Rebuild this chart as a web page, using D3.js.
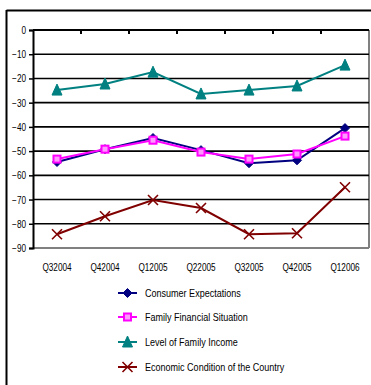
<!DOCTYPE html>
<html><head><meta charset="utf-8">
<script src="https://cdn.jsdelivr.net/npm/d3@7"></script>
<style>
html,body{margin:0;padding:0;background:#fff;}
svg{display:block;}
text{font-family:"Liberation Sans",Arial,sans-serif;fill:#000;}
</style></head><body>
<svg id="chart" width="371" height="385"></svg>
<script>
const categories = ["Q32004","Q42004","Q12005","Q22005","Q32005","Q42005","Q12006"];
const consumerExpectations = [-54.5, -49.2, -44.6, -49.6, -55.0, -53.8, -40.5];
const familyFinancial = [-53.3, -49.2, -45.5, -50.4, -53.3, -51.2, -43.8];
const familyIncome = [-24.8, -22.3, -17.4, -26.4, -24.8, -23.1, -14.5];
const economicCondition = [-84.3, -76.9, -70.2, -73.5, -84.3, -83.9, -64.9];
const yTicks = [0,-10,-20,-30,-40,-50,-60,-70,-80,-90];

const series = [
  {name:"Consumer Expectations", values:consumerExpectations, color:"#000080", marker:"diamond"},
  {name:"Family Financial Situation", values:familyFinancial, color:"#FF00FF", marker:"square"},
  {name:"Level of Family Income", values:familyIncome, color:"#008080", marker:"triangle"},
  {name:"Economic Condition of the Country", values:economicCondition, color:"#800000", marker:"x"}
];

const svg = d3.select("#chart");
const L=33, R=369, T=30, B=248;

// outer frame (left and top)
svg.append("line").attr("x1",6.5).attr("x2",371).attr("y1",10.5).attr("y2",10.5).attr("stroke","#000").attr("stroke-width",2);
svg.append("line").attr("x1",6.5).attr("x2",6.5).attr("y1",10).attr("y2",385).attr("stroke","#000").attr("stroke-width",2);

const x = d3.scaleBand().domain(categories).range([L,R]);
const y = d3.scaleLinear().domain([-90,0]).range([B,T]);

// plot area border (gray bottom/right)
svg.append("line").attr("x1",L).attr("x2",R).attr("y1",B).attr("y2",B).attr("stroke","#808080").attr("stroke-width",2);
svg.append("line").attr("x1",R).attr("x2",R).attr("y1",T).attr("y2",B).attr("stroke","#808080").attr("stroke-width",2);

// gridlines
svg.append("g").selectAll("line").data(yTicks.filter(v=>v!==0 && v!==-90)).join("line")
  .attr("x1",L).attr("x2",R).attr("y1",d=>y(d)).attr("y2",d=>y(d))
  .attr("stroke","#000").attr("stroke-width",1.6);

// y axis
const yAxis = d3.axisLeft(y).tickValues(yTicks).tickSize(4).tickPadding(3).tickFormat(d3.format("d"));
const gy = svg.append("g").attr("transform",`translate(${L},0)`).call(yAxis);
gy.select(".domain").attr("stroke","#000").attr("stroke-width",2);
gy.selectAll(".tick line").attr("stroke","#000").attr("stroke-width",1.5);
gy.selectAll(".tick text").attr("font-size",10).attr("font-family",null).attr("dy","0.35em");

// x axis at value 0 (top), ticks between categories, labels at bottom
const boundaries = categories.slice(1).map(c=>x(c));
svg.append("line").attr("x1",L).attr("x2",R).attr("y1",y(0)).attr("y2",y(0)).attr("stroke","#000").attr("stroke-width",2);
svg.append("g").selectAll("line").data(boundaries).join("line")
  .attr("x1",d=>d).attr("x2",d=>d).attr("y1",y(0)).attr("y2",y(0)+4).attr("stroke","#000").attr("stroke-width",2);
svg.append("g").selectAll("text").data(categories).join("text")
  .attr("x",d=>x(d)+x.bandwidth()/2).attr("y",271)
  .attr("text-anchor","middle").attr("font-size",10).text(d=>d);

function drawMarker(g, type, color){
  if(type==="diamond"){
    g.append("path").attr("d","M0,-4.5L4.5,0L0,4.5L-4.5,0Z").attr("fill",color).attr("stroke",color).attr("stroke-width",1);
  } else if(type==="square"){
    g.append("rect").attr("x",-3.5).attr("y",-3.5).attr("width",7).attr("height",7).attr("fill","#ff99ff").attr("stroke",color).attr("stroke-width",2);
  } else if(type==="triangle"){
    g.append("path").attr("d","M0,-6L5,5L-5,5Z").attr("fill",color).attr("stroke",color).attr("stroke-width",1);
  } else if(type==="x"){
    g.append("path").attr("d","M-5,-5L5,5M5,-5L-5,5").attr("fill","none").attr("stroke",color).attr("stroke-width",1.6);
  }
}

const line = d3.line().x((d,i)=>x(categories[i])+x.bandwidth()/2).y(d=>y(d));
series.forEach(s=>{
  const g = svg.append("g");
  g.append("path").attr("d",line(s.values)).attr("fill","none").attr("stroke",s.color).attr("stroke-width",2);
  s.values.forEach((v,i)=>{
    const m = g.append("g").attr("transform",`translate(${x(categories[i])+x.bandwidth()/2},${y(v)})`);
    drawMarker(m, s.marker, s.color);
  });
});

// legend
const legY = [293, 317, 342, 367];
series.forEach((s,i)=>{
  const g = svg.append("g").attr("transform",`translate(0,${legY[i]})`);
  g.append("line").attr("x1",118).attr("x2",137).attr("y1",0).attr("y2",0).attr("stroke",s.color).attr("stroke-width",2);
  const m = g.append("g").attr("transform","translate(127.5,0)");
  drawMarker(m, s.marker, s.color);
  g.append("text").attr("x",145).attr("y",0).attr("dy","0.35em").attr("font-size",11).text(s.name);
});

// narrow the text (Arial Narrow look)
svg.selectAll("text").each(function(){
  const w = this.getComputedTextLength();
  d3.select(this).attr("textLength", w*0.82).attr("lengthAdjust","spacingAndGlyphs");
});
</script>
</body></html>
